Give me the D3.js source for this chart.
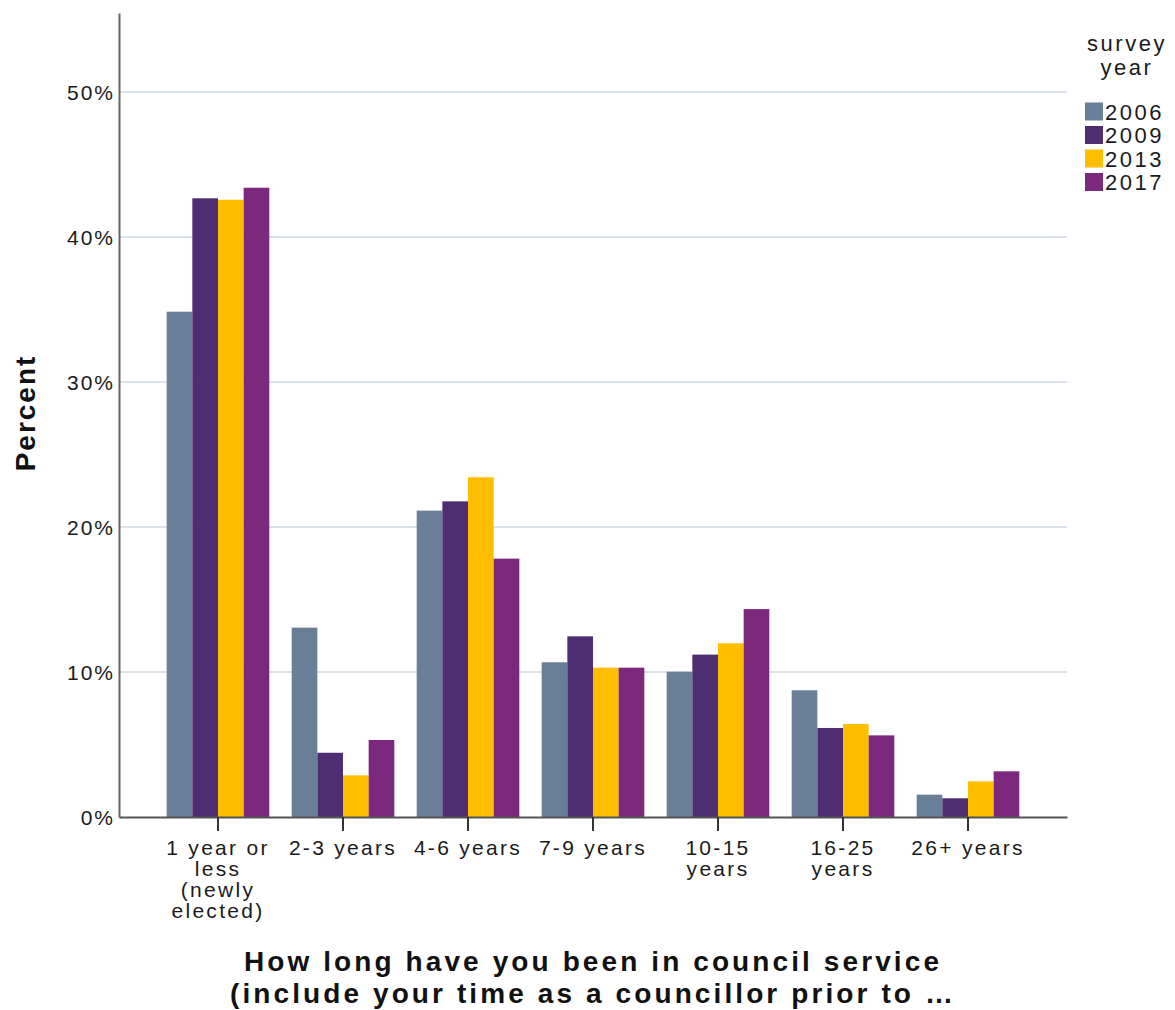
<!DOCTYPE html>
<html>
<head>
<meta charset="utf-8">
<script src="https://cdn.jsdelivr.net/npm/d3@7"></script>
<style>
  html, body { margin: 0; padding: 0; background: #fff; }
  svg { display: block; font-family: "Liberation Sans", Arial, sans-serif; }
</style>
</head>
<body>
<svg id="chart" width="1175" height="1010"></svg>
<script>
// ---- data ----
const categories = ["1 year or\nless\n(newly\nelected)", "2-3 years", "4-6 years", "7-9 years", "10-15\nyears", "16-25\nyears", "26+ years"];
const years = ["2006", "2009", "2013", "2017"];
const values2006 = [34.85, 13.06, 21.13, 10.67, 10.02, 8.74, 1.54];
const values2009 = [42.67, 4.43, 21.77, 12.46, 11.20, 6.14, 1.29];
const values2013 = [42.57, 2.87, 23.43, 10.30, 11.98, 6.41, 2.46];
const values2017 = [43.40, 5.31, 17.82, 10.30, 14.34, 5.63, 3.15];
const yTicks = [0, 10, 20, 30, 40, 50];
const colors = ["#687f97", "#4f2d73", "#ffbd00", "#7c287c"];
const xTitle = ["How long have you been in council service", "(include your time as a councillor prior to \u2026"];
const yTitle = "Percent";
const legendTitle = ["survey", "year"];

const series = [values2006, values2009, values2013, values2017];

// ---- layout ----
const margin = { left: 119, top: 13 };
const W = 948, H = 804;
const svg = d3.select("#chart");
const g = svg.append("g").attr("transform", `translate(${margin.left},${margin.top})`);

const x0 = d3.scaleBand().domain(categories).range([0, W]).paddingInner(0.179).paddingOuter(0.3815);
const x1 = d3.scaleBand().domain(years).range([0, x0.bandwidth()]);
const y = d3.scaleLinear().domain([0, 55.45]).range([H, 0]);
const color = d3.scaleOrdinal().domain(years).range(colors);

// gridlines
g.append("g").selectAll("line").data(yTicks.filter(d => d > 0)).join("line")
  .attr("x1", 0).attr("x2", W)
  .attr("y1", d => y(d)).attr("y2", d => y(d))
  .attr("stroke", "#cfd8e3").attr("stroke-width", 1.5);

// bars
const groups = g.append("g").selectAll("g").data(categories).join("g")
  .attr("transform", d => `translate(${x0(d)},0)`);
groups.selectAll("rect")
  .data((c, i) => years.map((yr, j) => ({ yr, v: series[j][i] })))
  .join("rect")
  .attr("x", d => x1(d.yr))
  .attr("width", x1.bandwidth())
  .attr("y", d => y(d.v))
  .attr("height", d => H - y(d.v))
  .attr("fill", d => color(d.yr));

// y axis
const yAxis = g.append("g")
  .call(d3.axisLeft(y).tickValues(yTicks).tickFormat(d => d + "%").tickSize(0).tickSizeOuter(0).tickPadding(4));
yAxis.select(".domain").attr("stroke", "#666").attr("stroke-width", 2);
yAxis.selectAll("text").attr("font-size", 21).attr("fill", "#1a1a1a").attr("letter-spacing", "2px")
  .attr("font-family", "Liberation Sans, Arial, sans-serif").attr("dy", "0.35em");

// x axis
const xAxis = g.append("g").attr("transform", `translate(0,${H})`)
  .call(d3.axisBottom(x0).tickSize(14).tickSizeOuter(0).tickPadding(6));
xAxis.select(".domain").attr("stroke", "#555").attr("stroke-width", 2);
xAxis.selectAll(".tick line").attr("stroke", "#333").attr("stroke-width", 2);
xAxis.selectAll("text").each(function(d) {
  const t = d3.select(this);
  t.text(null).attr("font-size", 21).attr("fill", "#1a1a1a").attr("letter-spacing", "2.3px")
    .attr("font-family", "Liberation Sans, Arial, sans-serif").attr("y", 0).attr("dy", null);
  d.split("\n").forEach((line, i) => {
    t.append("tspan").attr("x", 0).attr("y", 38 + i * 21).text(line);
  });
});

// y title
svg.append("text")
  .attr("transform", `translate(35,413) rotate(-90)`)
  .attr("text-anchor", "middle")
  .attr("font-size", 28).attr("font-weight", "bold").attr("letter-spacing", "2px")
  .attr("fill", "#111")
  .text(yTitle);

// x title
svg.append("g").selectAll("text").data(xTitle).join("text")
  .attr("x", margin.left + W / 2)
  .attr("y", (d, i) => 971 + i * 32)
  .attr("text-anchor", "middle")
  .attr("font-size", 28).attr("font-weight", "bold").attr("letter-spacing", "3.1px")
  .attr("fill", "#111")
  .text(d => d);

// legend
const lg = svg.append("g");
lg.selectAll("text.title").data(legendTitle).join("text")
  .attr("class", "title")
  .attr("x", 1127).attr("y", (d, i) => 51 + i * 24)
  .attr("text-anchor", "middle")
  .attr("font-size", 22).attr("letter-spacing", "2.5px").attr("fill", "#1a1a1a")
  .text(d => d);
const items = lg.selectAll("g.item").data(years).join("g").attr("class", "item")
  .attr("transform", (d, i) => `translate(1085,${102.5 + i * 23.5})`);
items.append("rect").attr("width", 18).attr("height", 18).attr("fill", d => color(d));
items.append("text").attr("x", 20).attr("y", 17)
  .attr("font-size", 22).attr("letter-spacing", "2.5px").attr("fill", "#1a1a1a")
  .text(d => d);
</script>
</body>
</html>
